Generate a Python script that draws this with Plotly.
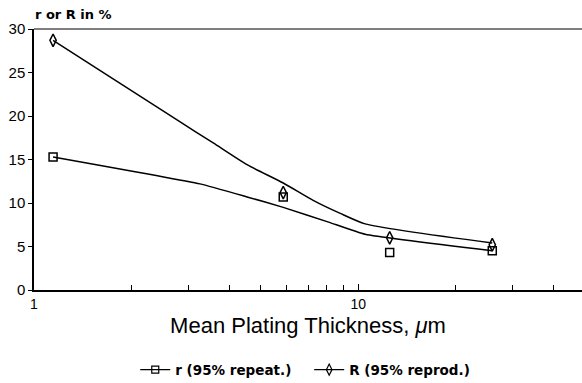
import plotly.graph_objects as go

# measured points
thickness = [1.145, 5.87, 12.5, 25.9]
r_repeat = [15.3, 10.7, 4.3, 4.5]
R_reprod = [28.7, 11.2, 6.0, 5.2]

# fitted curves
fit_x_R = [1.145, 2.8, 3.57, 4.54, 5.87, 7.26, 8.80, 10.5, 25.9]
fit_y_R = [28.7, 19.4, 16.9, 14.4, 12.3, 10.3, 8.8, 7.6, 5.4]
fit_x_r = [1.145, 3.25, 4.54, 5.87, 8.1, 10.5, 25.9]
fit_y_r = [15.3, 12.2, 10.7, 9.5, 7.8, 6.4, 4.5]

y_ticks = [0, 5, 10, 15, 20, 25, 30]
x_tick_labels = {1: "1", 10: "10"}
minor_vals = [2, 3, 4, 5, 6, 7, 8, 9, 20, 30, 40]

FONT = "Liberation Sans, Arial, sans-serif"
BFONT = "DejaVu Sans, sans-serif"
fig = go.Figure()

fig.add_trace(go.Scatter(x=fit_x_R, y=fit_y_R, mode="lines",
                         line=dict(color="black", width=1.5, shape="spline", smoothing=0.6),
                         showlegend=False))
fig.add_trace(go.Scatter(x=fit_x_r, y=fit_y_r, mode="lines",
                         line=dict(color="black", width=1.5, shape="spline", smoothing=0.4),
                         showlegend=False))
fig.add_trace(go.Scatter(x=thickness, y=r_repeat, mode="markers",
                         marker=dict(symbol="square-open", size=8, color="black",
                                     line=dict(width=1.5)), showlegend=False))
fig.add_trace(go.Scatter(x=thickness, y=R_reprod, mode="markers",
                         marker=dict(symbol="diamond-tall-open", size=9, color="black",
                                     line=dict(width=1.5)), showlegend=False))
# legend entries
fig.add_trace(go.Scatter(x=[None], y=[None], mode="lines+markers",
                         name="<b>r (95% repeat.)</b>\u00a0\u00a0\u00a0",
                         line=dict(color="black", width=1.2),
                         marker=dict(symbol="square-open", size=7, color="black", line=dict(width=1.2))))
fig.add_trace(go.Scatter(x=[None], y=[None], mode="lines+markers", name="<b>R (95% reprod.)</b>",
                         line=dict(color="black", width=1.2),
                         marker=dict(symbol="diamond-tall-open", size=8, color="black", line=dict(width=1.2))))

fig.update_layout(
    width=582, height=383,
    margin=dict(l=34, r=0, t=29, b=93, autoexpand=False),
    paper_bgcolor="white", plot_bgcolor="white",
    font=dict(family=FONT, color="black"),
    xaxis=dict(type="log", range=[0, 1.69],
               tickvals=list(x_tick_labels.keys()), ticktext=list(x_tick_labels.values()),
               ticks="inside", ticklen=6, tickcolor="black",
               minor=dict(tickvals=minor_vals, ticks="inside", ticklen=5, tickcolor="black"),
               showline=True, linecolor="black", linewidth=1.5, showgrid=False, zeroline=False,
               tickfont=dict(size=14, family=FONT),
               title=dict(text="Mean Plating Thickness, <i>μ</i>m", font=dict(size=22, family=FONT), standoff=7)),
    yaxis=dict(range=[0, 30], tickvals=y_ticks,
               ticks="outside", ticklen=4, tickcolor="black",
               showline=True, linecolor="black", linewidth=1.5, showgrid=False, zeroline=False,
               tickprefix="<b>", ticksuffix="</b>",
               tickfont=dict(size=15, family=FONT)),
    legend=dict(orientation="h", x=0.495, xanchor="center", y=-0.306, yanchor="middle",
                font=dict(size=13.5, family=BFONT), itemwidth=30),
    annotations=[dict(text="<b>r or R in %</b>", xref="paper", yref="paper", x=-0.002, y=1.055,
                      xanchor="left", yanchor="middle", showarrow=False, font=dict(size=13, family=BFONT))],
    shapes=[dict(type="line", xref="paper", yref="paper", x0=0, x1=1, y0=1, y1=1,
                 line=dict(color="black", width=1.2))],
)

fig.write_html("out.html")
